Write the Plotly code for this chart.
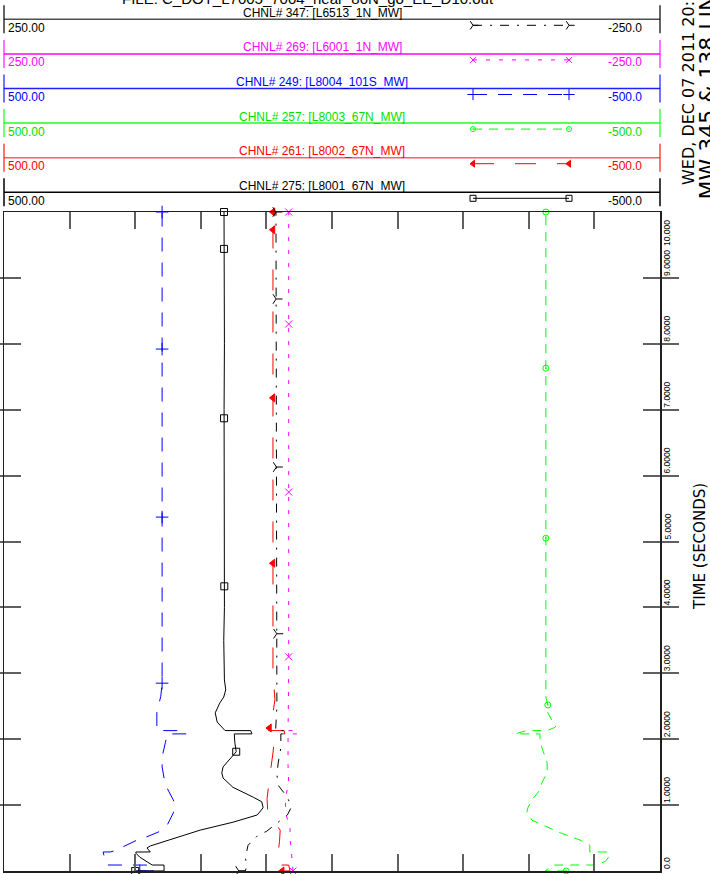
import numpy as np
import plotly.graph_objects as go

# ---------------- data ----------------
# CHNL# 347 [L6513_1N_MW]  (scale +/-250)
t_347 = [0, 0.001, 0.09, 0.2, 0.39, 0.55, 0.6, 0.73, 0.85, 0.97, 1.12, 1.3, 1.46, 1.64, 1.87, 2.08, 2.081, 2.13, 2.131, 2.49, 10]
v_347 = [71, 66, 65, 66, 64, 56, 50, 42, 34, 31, 34, 41, 42, 41, 39, 39, 35, 36, 43, 42, 42.7]
m_347 = [0, 3.6, 6.13, 8.68, 10]

# CHNL# 269 [L6001_1N_MW]  (scale +/-250)
t_269 = [0, 0.09, 0.3, 0.5, 0.67, 0.85, 1.0, 1.15, 1.34, 1.6, 2.08, 2.081, 2.13, 2.131, 3, 10]
v_269 = [29.7, 30, 31, 32, 32, 35, 35.5, 35, 33, 33.5, 33.5, 26, 26.5, 33.5, 33, 33]
m_269 = [0, 3.25, 5.75, 8.30, 10]

# CHNL# 249 [L8004_101S_MW]  (scale +/-500)
t_249 = [0, 0.001, 0.09, 0.091, 0.18, 0.27, 0.288, 0.289, 0.32, 0.36, 0.47, 0.52, 0.59, 0.70, 0.88, 1.0,
         1.08, 1.23, 1.41, 1.58, 1.73, 1.95, 2.08, 2.081, 2.13, 2.131, 2.2, 2.4, 2.49, 2.65, 2.85, 4, 6, 8, 10]
v_249 = [293, 273, 273, 343, 346, 349, 349, 338, 326, 320, 297, 282, 265, 251, 242, 239,
         242, 250, 256, 259, 259, 254, 251, 221, 236, 267, 267, 267, 265, 261, 259, 259, 259, 259, 259]
m_249 = [0, 2.85, 5.37, 7.92, 10]

# CHNL# 257 [L8003_67N_MW]  (scale +/-500)
t_257 = [0, 0.001, 0.09, 0.091, 0.14, 0.2, 0.288, 0.289, 0.39, 0.47, 0.58, 0.65, 0.77, 0.90, 0.97, 1.08,
         1.23, 1.34, 1.49, 1.64, 1.73, 1.87, 1.96, 2.08, 2.081, 2.13, 2.131, 2.18, 2.2, 2.29, 2.4, 2.52,
         2.64, 4, 6, 8, 10]
v_257 = [-357, -325, -337, -398, -416, -421, -422, -393, -393, -378, -348, -332, -305, -297, -299, -305,
         -317, -320, -328, -328, -325, -320, -317, -317, -279, -297, -328, -340, -341, -335, -329, -329,
         -326, -326, -326, -326, -326]
m_257 = [0, 2.52, 5.05, 7.63, 10]

# CHNL# 261 [L8002_67N_MW]  (scale +/-500)
t_261 = [0, 0.001, 0.09, 0.091, 0.288, 0.289, 0.45, 0.62, 0.75, 0.9, 1.1, 1.3, 1.5, 1.79, 2.08, 2.081,
         2.13, 2.131, 2.25, 2.6, 2.8, 3.0, 5, 7, 10]
v_261 = [76, 64, 66, 80, 84, 82, 80, 79, 88, 98, 99, 96, 94, 90, 87, 72,
         73, 97, 92, 87, 88, 90, 90, 90, 90]
m_261 = [0, 2.17, 4.67, 7.18, 9.73, 10]

# CHNL# 275 [L8001_67N_MW]  (scale +/-500)
t_275 = [0, 0.001, 0.09, 0.091, 0.14, 0.21, 0.27, 0.288, 0.289, 0.35, 0.38, 0.46, 0.62, 0.74, 0.85, 0.96,
         1.05, 1.12, 1.27, 1.41, 1.49, 1.58, 1.71, 1.81, 1.94, 2.08, 2.081, 2.13, 2.131, 2.26, 2.40, 2.55,
         2.64, 2.75, 2.90, 3.5, 4.0, 5.0, 6.0, 7.0, 8.0, 9.0, 10.0]
v_275 = [300, 256, 256, 274, 282, 293, 299, 299, 277, 282, 277, 251, 201, 151, 114, 105,
         107, 120, 151, 166, 168, 166, 155, 146, 148, 149, 122, 124, 163, 175, 178, 171,
         165, 162, 164, 165, 164, 164.5, 165, 164.5, 164, 164.5, 164.6]
m_275 = [0, 1.81, 4.32, 6.87, 9.44, 10]

header_titles = ["CHNL# 347: [L6513_1N_MW]", "CHNL# 269: [L6001_1N_MW]", "CHNL# 249: [L8004_101S_MW]",
                 "CHNL# 257: [L8003_67N_MW]", "CHNL# 261: [L8002_67N_MW]", "CHNL# 275: [L8001_67N_MW]"]
scale_max = [250, 250, 500, 500, 500, 500]
left_labels = ["250.00", "250.00", "500.00", "500.00", "500.00", "500.00"]
right_labels = ["-250.0", "-250.0", "-500.0", "-500.0", "-500.0", "-500.0"]

time_ticks = [0, 1, 2, 3, 4, 5, 6, 7, 8, 9, 10]
time_tick_labels = ["0.0", "1.0000", "2.0000", "3.0000", "4.0000", "5.0000",
                    "6.0000", "7.0000", "8.0000", "9.0000", "10.000"]

file_title = "FILE: C_DOT_L7005_7004_near_80N_go_EE_D10.out"
date_text = "WED, DEC 07 2011 20:36"
plot_title = "MW 345 & 138 LINE FLOWS"
time_title = "TIME (SECONDS)"

# ---------------- styling ----------------
FONT = "Liberation Sans, Arial, sans-serif"
FONT2 = "DejaVu Sans, sans-serif"
styles = [
    dict(t=t_347, v=v_347, m=m_347, color="#000000", hdr="#505050", bar="rgba(0,0,0,0.6)",
         dash="9px,8px,2px,8px", sym="y-right", ms=8),
    dict(t=t_269, v=v_269, m=m_269, color="#ff00ff", hdr="#ff00ff", bar="rgba(255,0,255,0.55)",
         dash="4px,9px", sym="x-thin", ms=7),
    dict(t=t_249, v=v_249, m=m_249, color="#0000ff", hdr="#2020ff", bar="rgba(0,0,255,0.55)",
         dash="14px,11px", sym="cross-thin", ms=9),
    dict(t=t_257, v=v_257, m=m_257, color="#00ff00", hdr="#20ff20", bar="rgba(0,255,0,0.55)",
         dash="9px,7px", sym="circle-open-dot", ms=6),
    dict(t=t_261, v=v_261, m=m_261, color="#ff0000", hdr="#ff6060", bar="rgba(255,0,0,0.55)",
         dash="21px,21px", sym="triangle-left", ms=7),
    dict(t=t_275, v=v_275, m=m_275, color="#000000", hdr="#000000", bar="rgba(0,0,0,0.75)",
         dash="solid", sym="square-open", ms=7),
]
text_colors = ["#000000", "#ff00ff", "#0000ff", "#00e000", "#ff0000", "#000000"]


def fx(xp):
    return (xp - 4) / 656.0


def fy(yp):
    return (871 - yp) / 871.0


fig = go.Figure()

for i, s in enumerate(styles):
    xa = "x2" if scale_max[i] == 250 else "x"
    fig.add_trace(go.Scatter(x=s["v"], y=s["t"], xaxis=xa, yaxis="y", mode="lines",
                             line=dict(color=s["color"], width=1, dash=s["dash"]),
                             hoverinfo="skip", showlegend=False))
    mv = np.interp(s["m"], s["t"], s["v"])
    fig.add_trace(go.Scatter(x=mv, y=s["m"], xaxis=xa, yaxis="y", mode="markers",
                             marker=dict(symbol=s["sym"], size=s["ms"], color=s["color"],
                                         line=dict(color=s["color"], width=1)),
                             cliponaxis=False, hoverinfo="skip", showlegend=False))

shapes = []
annotations = []
ROW0, PITCH = 19.3, 34.6
for i, s in enumerate(styles):
    ly = ROW0 + PITCH * i
    shapes.append(dict(type="line", xref="paper", yref="paper", x0=fx(4), x1=fx(660), y0=fy(ly), y1=fy(ly),
                       line=dict(color=s["hdr"], width=1.5)))
    for xb in (4, 660):
        shapes.append(dict(type="line", xref="paper", yref="paper", x0=fx(xb), x1=fx(xb),
                           y0=fy(ly - 14), y1=fy(ly + 14), line=dict(color=s["bar"], width=2)))
    annotations.append(dict(xref="paper", yref="paper", x=fx(322), y=fy(ly - 6.5), text=header_titles[i],
                            showarrow=False, xanchor="center", yanchor="middle",
                            font=dict(family=FONT, size=12, color=text_colors[i])))
    annotations.append(dict(xref="paper", yref="paper", x=fx(6), y=fy(ly + 8.5), text=left_labels[i],
                            showarrow=False, xanchor="left", yanchor="middle",
                            font=dict(family=FONT, size=12, color=text_colors[i])))
    annotations.append(dict(xref="paper", yref="paper", x=fx(644), y=fy(ly + 8.5), text=right_labels[i],
                            showarrow=False, xanchor="right", yanchor="middle",
                            font=dict(family=FONT, size=12, color=text_colors[i])))
    # legend sample
    fig.add_trace(go.Scatter(x=[473, 569], y=[ly + 6, ly + 6], xaxis="x3", yaxis="y3", mode="lines+markers",
                             line=dict(color=s["color"], width=1, dash=s["dash"]),
                             marker=dict(symbol=s["sym"], size=s["ms"] - 1, color=s["color"],
                                         line=dict(color=s["color"], width=1)),
                             cliponaxis=False, hoverinfo="skip", showlegend=False))

# time tick labels (rotated)
for tv, tl in zip(time_ticks, time_tick_labels):
    top = tv == time_ticks[-1]
    annotations.append(dict(xref="paper", yref="y", x=fx(667), y=tv, text=tl, textangle=-90,
                            showarrow=False, xanchor="center", yanchor="top" if top else "bottom",
                            yshift=-6 if top else 0,
                            font=dict(family=FONT, size=8.5, color="#000000")))

annotations.append(dict(xref="paper", yref="paper", x=fx(308), y=fy(-1.5), text=file_title, showarrow=False,
                        xanchor="center", yanchor="middle", font=dict(family=FONT, size=15, color="#000000")))
annotations.append(dict(xref="paper", yref="paper", x=fx(688), y=fy(187), text=date_text, textangle=-90,
                        showarrow=False, xanchor="center", yanchor="bottom",
                        font=dict(family=FONT2, size=16, color="#000000")))
annotations.append(dict(xref="paper", yref="paper", x=fx(707), y=fy(201), text=plot_title, textangle=-90,
                        showarrow=False, xanchor="center", yanchor="bottom",
                        font=dict(family=FONT2, size=22, color="#000000")))
annotations.append(dict(xref="paper", yref="paper", x=fx(700), y=fy(547), text=time_title, textangle=-90,
                        showarrow=False, xanchor="center", yanchor="middle",
                        font=dict(family=FONT2, size=15, color="#000000")))

axis_style = dict(showline=True, mirror="allticks", ticks="inside", ticklen=17, tickwidth=2,
                  tickcolor="#606060", linecolor="#202020", linewidth=1.5, showticklabels=False,
                  showgrid=False, zeroline=False)

fig.update_layout(
    width=710, height=874,
    margin=dict(l=4, r=50, t=0, b=3),
    paper_bgcolor="white", plot_bgcolor="rgba(0,0,0,0)",
    showlegend=False,
    xaxis=dict(domain=[0, 1], range=[scale_max[2], -scale_max[2]], anchor="y", tick0=0, dtick=scale_max[2] / 5,
               **axis_style),
    xaxis2=dict(overlaying="x", range=[scale_max[0], -scale_max[0]], visible=False, anchor="y"),
    yaxis=dict(domain=[0, fy(212)], range=[0, 10], anchor="x", tick0=0, dtick=1, **axis_style),
    xaxis3=dict(domain=[0, 1], range=[4, 660], anchor="y3", visible=False),
    yaxis3=dict(domain=[0, 1], range=[871, 0], anchor="x3", visible=False),
    shapes=shapes,
    annotations=annotations,
)

fig.write_html("out.html", config={"displayModeBar": False, "staticPlot": True},
               post_script="document.body.style.margin='0px';document.body.style.overflow='hidden';")
